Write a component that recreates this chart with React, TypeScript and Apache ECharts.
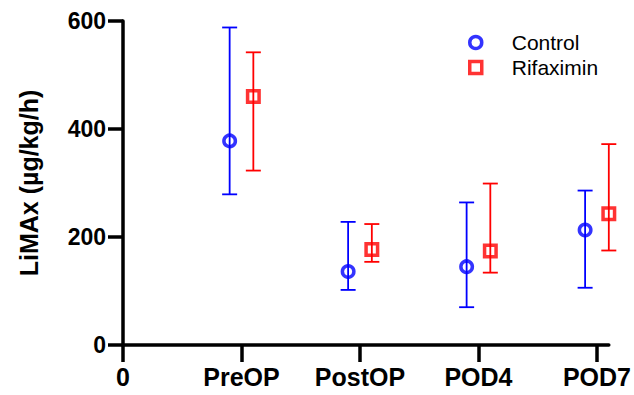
import React, { useEffect, useRef } from "react";
import * as echarts from "echarts";

const categories = ["0", "PreOP", "PostOP", "POD4", "POD7"];
const yTicks = [0, 200, 400, 600];
const controlMean = [378, 136, 145, 213];
const controlLow = [279, 102, 70, 106];
const controlHigh = [588, 228, 264, 286];
const rifMean = [460, 177, 174, 243];
const rifLow = [323, 154, 134, 175];
const rifHigh = [542, 224, 299, 372];

const BLUE = "#0000FF";
const RED = "#FF0000";
const FONT = "Liberation Sans, Arial, sans-serif";
const OFFSET = 0.1;

function errorBars(color: string) {
  return (params: any, api: any) => {
    const x = api.value(0);
    const lo = api.coord([x, api.value(1)]);
    const hi = api.coord([x, api.value(2)]);
    const w = 7.5;
    const style = { stroke: color, lineWidth: 1.8, fill: "none" };
    return {
      type: "group",
      children: [
        { type: "line", shape: { x1: lo[0], y1: lo[1], x2: hi[0], y2: hi[1] }, style },
        { type: "line", shape: { x1: lo[0] - w, y1: lo[1], x2: lo[0] + w, y2: lo[1] }, style },
        { type: "line", shape: { x1: hi[0] - w, y1: hi[1], x2: hi[0] + w, y2: hi[1] }, style },
      ],
    };
  };
}

export default function App() {
  const ref = useRef<HTMLDivElement>(null);
  useEffect(() => {
    if (!ref.current) return;
    const chart = echarts.init(ref.current, null, { renderer: "svg" });
    const ctrlPts = controlMean.map((v, i) => [i + 1 - OFFSET, v]);
    const rifPts = rifMean.map((v, i) => [i + 1 + OFFSET, v]);
    const ctrlErr = controlMean.map((_, i) => [i + 1 - OFFSET, controlLow[i], controlHigh[i]]);
    const rifErr = rifMean.map((_, i) => [i + 1 + OFFSET, rifLow[i], rifHigh[i]]);
    const tickVals = categories.map((_, i) => i);
    chart.setOption({
      animation: false,
      textStyle: { fontFamily: FONT },
      grid: { left: 123, right: 24, top: 21, bottom: 50 },
      legend: {
        orient: "vertical",
        left: 463,
        top: 27,
        itemWidth: 12,
        itemHeight: 12,
        itemGap: 4,
        data: [
          { name: "Control", icon: "circle", itemStyle: { borderWidth: 3.5, borderColor: BLUE, color: "rgba(0,0,0,0)" } },
          { name: "Rifaximin", icon: "rect", itemStyle: { borderWidth: 3.5, borderColor: RED, color: "rgba(0,0,0,0)" } },
        ],
        textStyle: { fontSize: 21, color: "#000", fontFamily: FONT, padding: [0, 0, 0, 25] },
      },
      xAxis: {
        type: "value",
        min: 0,
        max: 4.1,
        interval: 1,
        splitLine: { show: false },
        axisLine: { lineStyle: { color: "#000", width: 3.5 } },
        axisTick: { customValues: tickVals, length: 17, lineStyle: { color: "#000", width: 3.5 } },
        axisLabel: {
          customValues: tickVals,
          formatter: (v: number) => categories[Math.round(v)] ?? "",
          fontSize: 25,
          fontWeight: "bold",
          color: "#000",
          fontFamily: FONT,
          margin: 19,
        },
      },
      yAxis: {
        type: "value",
        min: 0,
        max: 600,
        interval: 200,
        splitLine: { show: false },
        axisLine: { show: true, lineStyle: { color: "#000", width: 3.5 } },
        axisTick: { show: true, length: 15, lineStyle: { color: "#000", width: 3.5 } },
        axisLabel: {
          customValues: yTicks,
          fontSize: 23,
          fontWeight: "bold",
          color: "#000",
          fontFamily: FONT,
          margin: 17,
        },
        name: "LiMAx (µg/kg/h)",
        nameLocation: "middle",
        nameRotate: 90,
        nameGap: 82,
        nameTextStyle: { fontSize: 25, fontWeight: "bold", color: "#000", fontFamily: FONT },
      },
      series: [
        {
          name: "Control SD",
          type: "custom",
          renderItem: errorBars(BLUE),
          encode: { x: 0, y: [1, 2] },
          data: ctrlErr,
          z: 2,
        },
        {
          name: "Rifaximin SD",
          type: "custom",
          renderItem: errorBars(RED),
          encode: { x: 0, y: [1, 2] },
          data: rifErr,
          z: 2,
        },
        {
          name: "Control",
          type: "scatter",
          symbol: "circle",
          symbolSize: 11.5,
          data: ctrlPts,
          itemStyle: { color: "rgba(0,0,0,0)", borderColor: BLUE, borderWidth: 3.5 },
          z: 3,
        },
        {
          name: "Rifaximin",
          type: "scatter",
          symbol: "rect",
          symbolSize: 11.5,
          data: rifPts,
          itemStyle: { color: "rgba(0,0,0,0)", borderColor: RED, borderWidth: 3.5 },
          z: 3,
        },
      ],
    });
    return () => chart.dispose();
  }, []);
  return (
    <div
      ref={ref}
      style={{ position: "absolute", left: 0, top: 0, width: 634, height: 395, background: "#fff" }}
    />
  );
}
